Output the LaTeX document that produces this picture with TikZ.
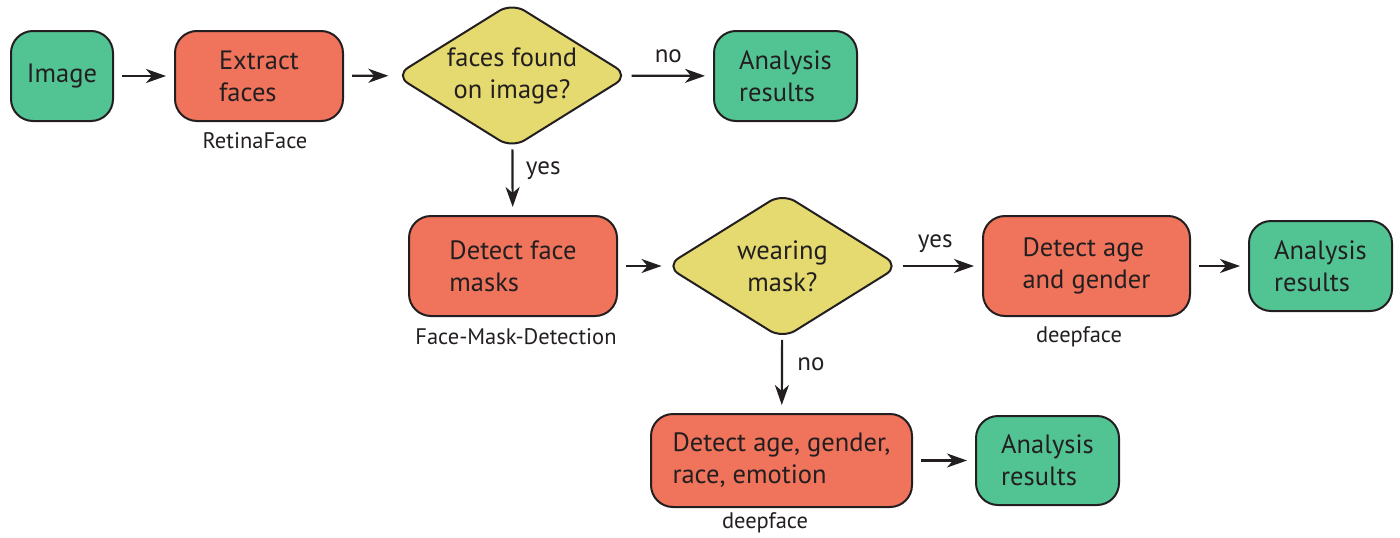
\documentclass[tikz,border=0pt]{standalone}
\usepackage{fontspec}
\setmainfont{PT Sans}
\usetikzlibrary{shapes.geometric,arrows.meta}
\definecolor{cgreen}{HTML}{52C494}
\definecolor{cred}{HTML}{F0735B}
\definecolor{cyellow}{HTML}{E4DA6F}
\definecolor{cline}{HTML}{231F20}
\begin{document}
\begin{tikzpicture}[x=1pt,y=-1pt,
  box/.style={draw=cline, line width=2pt, rounded corners=22pt, inner sep=0pt,
    align=left, text=cline, font=\fontsize{26.5}{32}\selectfont},
  gbox/.style={box, fill=cgreen},
  rbox/.style={box, fill=cred},
  dec/.style={diamond, draw=cline, line width=2pt, fill=cyellow, rounded corners=15pt,
    inner sep=0pt, minimum width=234pt, minimum height=146pt},
  dtext/.style={align=center, text=cline, font=\fontsize{26.5}{32}\selectfont},
  tool/.style={text=cline, font=\fontsize{22.5}{26}\selectfont},
  elab/.style={text=cline, font=\fontsize{25}{28}\selectfont},
  arr/.style={draw=cline, line width=2.2pt, -{Stealth[length=20pt, width=14pt, inset=6pt]},
    shorten <=8pt, shorten >=8pt}
]
\useasboundingbox (0,0) rectangle (1400,538);

\node[gbox, minimum width=102pt, minimum height=90pt] (img) at (62,76) {Image};
\node[rbox, minimum width=168pt, minimum height=90pt] (ext) at (259,76) {Extract\\faces};
\node[dec] (d1) at (512,75.5) {};
\node[dtext] (d1t) at (512,75.5) {faces found\\on image?};
\node[gbox, minimum width=143pt, minimum height=90pt] (res1) at (785.5,76) {Analysis\\results};

\node[rbox, minimum width=208pt, minimum height=100pt] (mask) at (513,266) {Detect face\\masks};
\node[dec] (d2) at (782.5,266) {};
\node[dtext] (d2t) at (782.5,266) {wearing\\mask?};
\node[rbox, minimum width=207pt, minimum height=100pt] (age) at (1086.5,266) {Detect age\\and gender};
\node[gbox, minimum width=143pt, minimum height=90pt] (res2) at (1320.5,266) {Analysis\\results};

\node[rbox, minimum width=261pt, minimum height=93pt] (all) at (781.5,460.5) {Detect age, gender,\\race, emotion};
\node[gbox, minimum width=143pt, minimum height=89pt] (res3) at (1047.5,460.5) {Analysis\\results};

\node[tool] (t1) at (255,141) {RetinaFace};
\node[tool] (t2) at (516,337) {Face-Mask-Detection};
\node[tool] (t3) at (1079,337) {deepface};
\node[tool] (t4) at (765,523) {deepface};

\draw[arr] (img) -- (ext);
\draw[arr, shorten >=6pt] (ext) -- (d1);
\draw[arr, shorten <=2pt] (d1) -- node[elab, above=9pt, xshift=-3pt] (l1) {no} (res1);
\draw[arr, shorten <=0pt] (d1) -- node[elab, right=9pt, pos=0.33] (l2) {yes} (mask);
\draw[arr, shorten >=3pt] (mask) -- (d2);
\draw[arr, shorten <=2pt] (d2) -- node[elab, above=9pt, xshift=-6pt] (l3) {yes} (age);
\draw[arr, shorten <=0pt] (d2) -- node[elab, right=11pt, pos=0.33] (l4) {no} (all);
\draw[arr] (age) -- (res2);
\draw[arr] (all) -- (res3);
\end{tikzpicture}
\end{document}
